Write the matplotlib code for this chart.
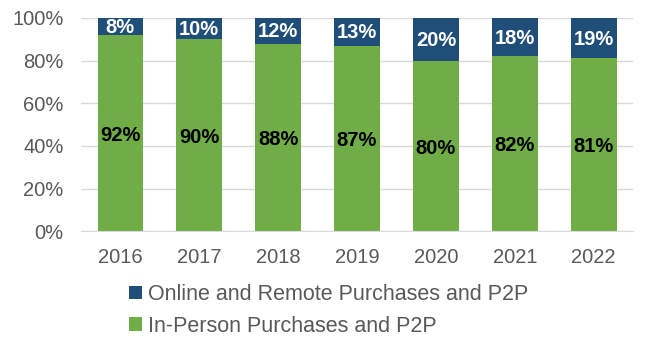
import numpy as np
import matplotlib.pyplot as plt

plt.rcParams['font.family'] = ['Liberation Sans', 'DejaVu Sans']

years = ['2016', '2017', '2018', '2019', '2020', '2021', '2022']
in_person = [92, 90, 88, 87, 80, 82, 81]
online = [8, 10, 12, 13, 20, 18, 19]

BLUE = '#1F4E79'
GREEN = '#70AD47'
GREY = '#595959'

fig = plt.figure(figsize=(6.48, 3.46), dpi=100)
ax = fig.add_axes([0.125, 0.332, 0.852, 0.616])

x = np.arange(len(years))
b1 = ax.bar(x, in_person, width=0.58, color=GREEN, label='In-Person Purchases and P2P', zorder=2)
b2 = ax.bar(x, online, width=0.58, bottom=in_person, color=BLUE,
            label='Online and Remote Purchases and P2P', zorder=2)

for xi, g, o in zip(x, in_person, online):
    ax.text(xi, g / 2 - 1, f'{g}%', ha='center', va='center', fontsize=14.5,
            fontweight='bold', color='black', zorder=3)
    ax.text(xi, g + o / 2 - 0.5, f'{o}%', ha='center', va='center', fontsize=14.5,
            fontweight='bold', color='white', zorder=3)

ax.set_xlim(-0.5, len(years) - 0.5)
ax.set_ylim(0, 100)
ax.set_yticks(range(0, 101, 20))
ax.set_yticklabels([f'{v}%' for v in range(0, 101, 20)])
ax.set_xticks(x)
ax.set_xticklabels(years)
ax.tick_params(axis='both', length=0, labelsize=14.5, colors=GREY)
ax.tick_params(axis='y', pad=12.5)
ax.tick_params(axis='x', pad=12)
ax.grid(axis='y', color='#D9D9D9', linewidth=1, zorder=0)
for s in ['top', 'right', 'left']:
    ax.spines[s].set_visible(False)
ax.spines['bottom'].set_color('#D9D9D9')

handles = [b2, b1]
fig.legend(handles, [h.get_label() for h in handles], loc='upper left',
           bbox_to_anchor=(0.182, 0.21), frameon=False, fontsize=15.5,
           handlelength=0.6, handleheight=0.6, handletextpad=0.3,
           labelspacing=0.5, labelcolor=GREY, borderpad=0)

fig.savefig('out.png', dpi=100)
